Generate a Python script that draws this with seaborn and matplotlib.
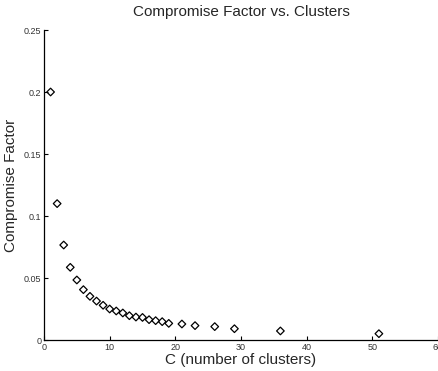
import matplotlib
matplotlib.use("Agg")
import matplotlib.pyplot as plt
import seaborn as sns
import pandas as pd

clusters = [1, 2, 3, 4, 5, 6, 7, 8, 9, 10, 11, 12, 13, 14, 15, 16, 17, 18, 19,
            21, 23, 26, 29, 36, 51]
factor = [0.200, 0.110, 0.0766, 0.0586, 0.0484, 0.0406, 0.0352, 0.0314, 0.0280,
          0.0250, 0.0234, 0.0218, 0.0196, 0.0185, 0.0182, 0.0164, 0.0156, 0.0148,
          0.0134, 0.0129, 0.0116, 0.0108, 0.0091, 0.0073, 0.0051]
xticks = [0, 10, 20, 30, 40, 50, 60]
xticklabels = ["0", "10", "20", "30", "40", "50", "60"]
yticks = [0, 0.05, 0.1, 0.15, 0.2, 0.25]
yticklabels = ["0", "0.05", "0.1", "0.15", "0.2", "0.25"]

df = pd.DataFrame({"C": clusters, "F": factor})

sns.set_style("white")
plt.rcParams["font.family"] = ["Liberation Sans", "DejaVu Sans"]

fig = plt.figure(figsize=(4.39, 3.71), dpi=100)
ax = fig.add_axes([44 / 439, 31 / 371, 394 / 439, 310 / 371])

sns.scatterplot(data=df, x="C", y="F", ax=ax, marker="D", s=15,
                facecolor="none", edgecolor="black", linewidth=0.9, legend=False)

ax.set_xlim(0, 60)
ax.set_ylim(0, 0.25)
ax.set_xticks(xticks)
ax.set_xticklabels(xticklabels)
ax.set_yticks(yticks)
ax.set_yticklabels(yticklabels)
ax.tick_params(direction="in", length=3, width=0.8, labelsize=6.5, colors="black",
               labelcolor="#333333", pad=2, left=True, bottom=True)
for s in ["top", "right"]:
    ax.spines[s].set_visible(False)
for s in ["left", "bottom"]:
    ax.spines[s].set_color("black")
    ax.spines[s].set_linewidth(0.9)

ax.set_title("Compromise Factor vs. Clusters", fontsize=11, pad=10)
ax.set_xlabel("C (number of clusters)", fontsize=11, labelpad=1)
ax.set_ylabel("Compromise Factor", fontsize=11, labelpad=4)

fig.savefig("out.png", dpi=100)
